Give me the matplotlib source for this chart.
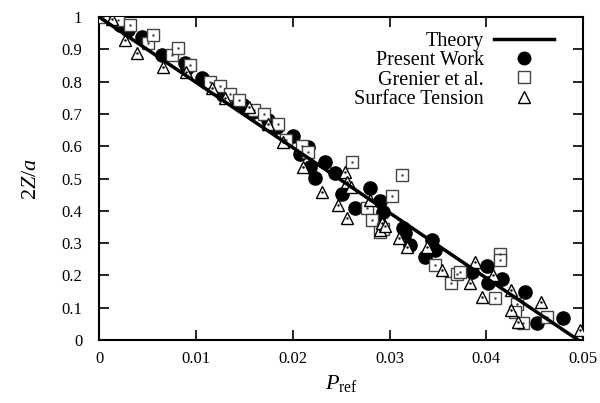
import matplotlib
matplotlib.use("Agg")
import matplotlib.pyplot as plt

plt.rcParams['font.family'] = ['Liberation Serif', 'DejaVu Serif']
plt.rcParams['mathtext.fontset'] = 'custom'
plt.rcParams['mathtext.rm'] = 'Liberation Serif'
plt.rcParams['mathtext.it'] = 'Liberation Serif:italic'

# Theory line
theory_p = [0.0, 0.0495]
theory_z = [1.0, 0.0]

# Present Work (filled circles)
pw_p = [0.0022, 0.0030, 0.0044, 0.0050, 0.0065, 0.0089, 0.0091, 0.0106, 0.0110, 0.0123,
        0.0128, 0.0144, 0.0149, 0.0159, 0.0174, 0.0184, 0.0200, 0.0208, 0.0216, 0.0218,
        0.0223, 0.0233, 0.0244, 0.0251, 0.0264, 0.0280, 0.0290, 0.0293, 0.0288, 0.0314,
        0.0316, 0.0321, 0.0337, 0.0344, 0.0347, 0.0385, 0.0401, 0.0402, 0.0416, 0.0440,
        0.0452, 0.0479]
pw_z = [0.975, 0.960, 0.938, 0.923, 0.882, 0.858, 0.842, 0.811, 0.800, 0.780,
        0.759, 0.737, 0.728, 0.706, 0.681, 0.659, 0.632, 0.575, 0.598, 0.536,
        0.502, 0.552, 0.517, 0.452, 0.410, 0.470, 0.430, 0.396, 0.372, 0.347,
        0.331, 0.294, 0.257, 0.310, 0.280, 0.210, 0.228, 0.176, 0.190, 0.150,
        0.052, 0.070]

# Grenier et al. (open squares)
gr_p = [0.0004, 0.0020, 0.0032, 0.0051, 0.0056, 0.0075, 0.0082, 0.0094, 0.0115, 0.0125,
        0.0135, 0.0145, 0.0160, 0.0170, 0.0185, 0.0193, 0.0210, 0.0216, 0.0261, 0.0277,
        0.0282, 0.0290, 0.0293, 0.0303, 0.0313, 0.0347, 0.0363, 0.0370, 0.0373, 0.0409,
        0.0414, 0.0414, 0.0432, 0.0430, 0.0438, 0.0463]
gr_z = [1.000, 0.990, 0.975, 0.920, 0.945, 0.882, 0.905, 0.850, 0.800, 0.785,
        0.760, 0.742, 0.712, 0.700, 0.668, 0.620, 0.600, 0.582, 0.552, 0.409,
        0.372, 0.334, 0.345, 0.445, 0.512, 0.232, 0.176, 0.205, 0.210, 0.130,
        0.268, 0.248, 0.113, 0.087, 0.052, 0.071]

# Surface Tension (open triangles)
st_p = [0.0013, 0.0027, 0.0039, 0.0066, 0.0090, 0.0117, 0.0130, 0.0155, 0.0175, 0.0190,
        0.0211, 0.0230, 0.0247, 0.0254, 0.0256, 0.0256, 0.0260, 0.0280, 0.0290, 0.0292,
        0.0295, 0.0310, 0.0318, 0.0339, 0.0354, 0.0383, 0.0388, 0.0396, 0.0407, 0.0425,
        0.0425, 0.0433, 0.0456, 0.0497]
st_z = [0.995, 0.929, 0.889, 0.845, 0.830, 0.780, 0.750, 0.720, 0.670, 0.612,
        0.536, 0.458, 0.418, 0.520, 0.378, 0.489, 0.474, 0.433, 0.340, 0.362,
        0.352, 0.316, 0.288, 0.288, 0.217, 0.176, 0.241, 0.133, 0.201, 0.155,
        0.093, 0.056, 0.118, 0.031]

x_ticks = [0, 0.01, 0.02, 0.03, 0.04, 0.05]
x_ticklabels = ['0', '0.01', '0.02', '0.03', '0.04', '0.05']
y_ticks = [0, 0.1, 0.2, 0.3, 0.4, 0.5, 0.6, 0.7, 0.8, 0.9, 1.0]
y_ticklabels = ['0', '0.1', '0.2', '0.3', '0.4', '0.5', '0.6', '0.7', '0.8', '0.9', '1']

fig = plt.figure(figsize=(6.0, 4.03), dpi=100)
ax = fig.add_axes([0.165, 0.156, 0.807, 0.802])

ax.plot(pw_p, pw_z, linestyle='none', marker='o', markersize=9.5, color='black',
        label='Present Work', zorder=3)
ax.plot(gr_p, gr_z, linestyle='none', marker='s', markersize=8.5, markerfacecolor='white',
        markeredgecolor='#444444', markeredgewidth=1.0, label='Grenier et al.', zorder=4)
ax.plot(gr_p, gr_z, linestyle='none', marker='.', markersize=1.5, color='#444444', zorder=4.1)
ax.plot(st_p, st_z, linestyle='none', marker='^', markersize=8.5, markerfacecolor='white',
        markeredgecolor='black', markeredgewidth=1.0, label='Surface Tension', zorder=5)
ax.plot(st_p, st_z, linestyle='none', marker='.', markersize=1.5, color='black', zorder=5.1)
ax.plot(theory_p, theory_z, color='black', linewidth=2.5, label='Theory', zorder=6)

ax.set_xlim(0, 0.05)
ax.set_ylim(0, 1)
ax.set_xticks(x_ticks)
ax.set_xticklabels(x_ticklabels)
ax.set_yticks(y_ticks)
ax.set_yticklabels(y_ticklabels)
ax.tick_params(direction='in', top=True, right=True, length=7, width=1.2,
               labelsize=12)
ax.tick_params(axis='y', pad=12)
ax.tick_params(axis='x', pad=8)
for s in ax.spines.values():
    s.set_linewidth(1.5)

ax.set_xlabel(r'$P_{\rm ref}$', fontsize=16, labelpad=4)
ax.set_ylabel(r'$2Z/a$', fontsize=16, labelpad=15)

handles, labels = ax.get_legend_handles_labels()
order = [labels.index(l) for l in ['Theory', 'Present Work', 'Grenier et al.', 'Surface Tension']]
leg = ax.legend([handles[i] for i in order], [labels[i] for i in order],
                loc='upper right', bbox_to_anchor=(0.965, 0.99), frameon=False,
                markerfirst=False, fontsize=14.5, handlelength=3.0, labelspacing=0.0,
                handletextpad=0.5, borderaxespad=0.2)
for h in leg.legend_handles:
    if hasattr(h, 'get_marker'):
        m = h.get_marker()
        if m == 'o':
            h.set_markersize(9)
        elif m in ('s', '^'):
            h.set_markersize(8)

fig.savefig('out.png', dpi=100)
